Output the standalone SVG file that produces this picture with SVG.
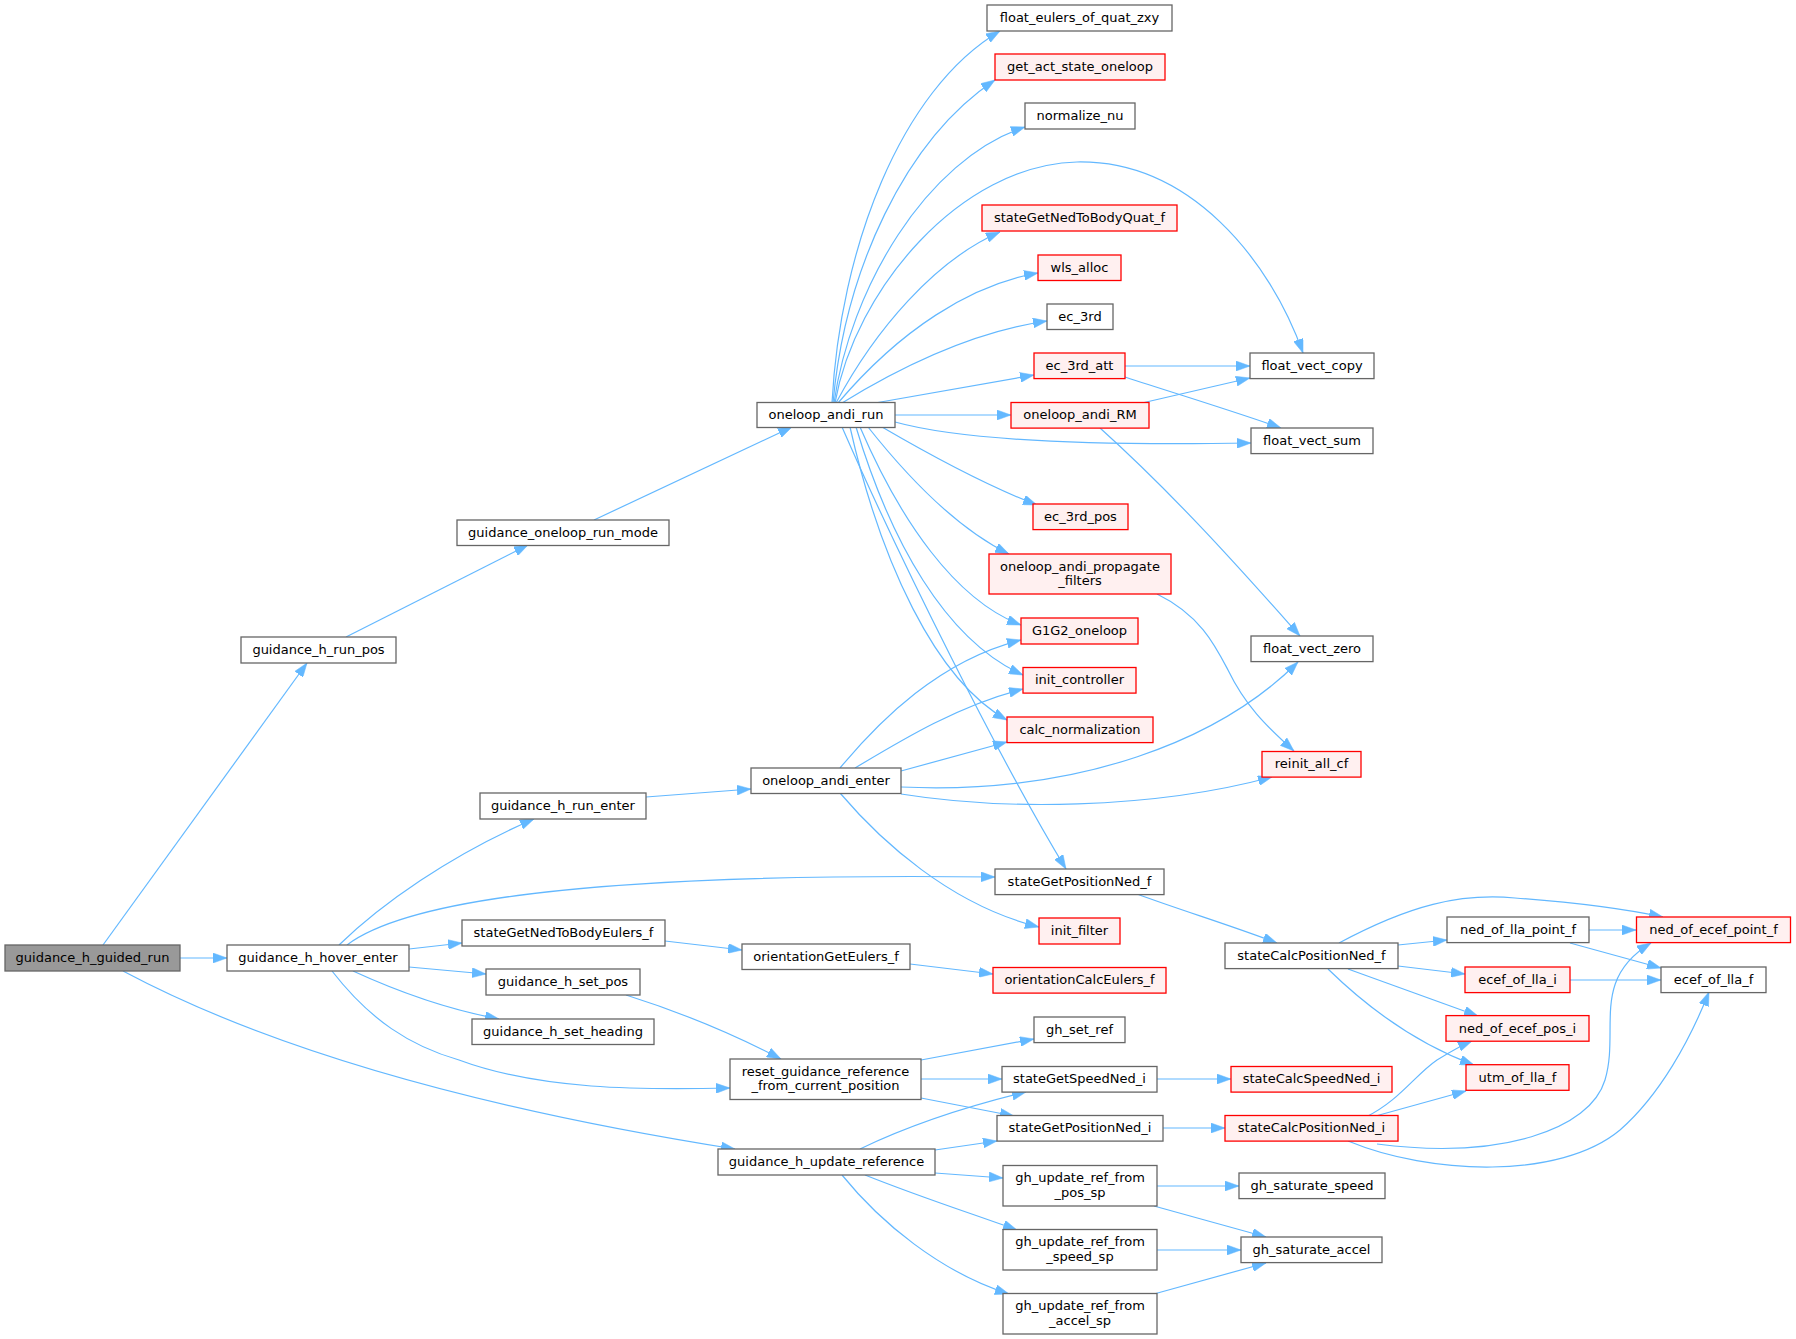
<svg xmlns="http://www.w3.org/2000/svg" width="1796" height="1339" viewBox="0 0 1796 1339">
<defs>
<style>
.w{fill:#ffffff;stroke:#666666;stroke-width:1.3}
.r{fill:#fff0f0;stroke:#ff0000;stroke-width:1.3}
.g{fill:#999999;stroke:#666666;stroke-width:1.3}
.t{font-family:"DejaVu Sans","Liberation Sans",sans-serif;font-size:13px;text-anchor:middle;fill:#000000}
#edges path{fill:none;stroke:#63b8ff;stroke-width:1.2;marker-end:url(#ah)}
</style>
<marker id="ah" markerWidth="14" markerHeight="10" refX="14" refY="5" orient="auto" markerUnits="userSpaceOnUse">
<path d="M0,0 L14,5 L0,10 z" fill="#63b8ff" stroke="#63b8ff" stroke-width="0.5"/>
</marker>
</defs>
<rect x="0" y="0" width="1796" height="1339" fill="#ffffff"/>
<g id="edges">
<path d="M103,945 L307,663"/>
<path d="M180,958 L227,958"/>
<path d="M123,971 C 290,1060 520,1115 735,1149"/>
<path d="M339,945 C 380,905 450,855 534,819"/>
<path d="M347,945 C 400,905 560,872 995,877"/>
<path d="M409,949 L462,943"/>
<path d="M409,967 L486,974"/>
<path d="M353,971 C 390,988 440,1008 499,1019"/>
<path d="M332,971 C 370,1020 410,1046 459,1060 C 540,1090 640,1090 730,1088"/>
<path d="M346,637 L528,545"/>
<path d="M594,520 L792,427"/>
<path d="M646,797 L751,789"/>
<path d="M626,995 C 680,1012 735,1035 781,1059"/>
<path d="M665,941 L742,950"/>
<path d="M910,964 L993,974"/>
<path d="M921,1060 L1034,1039"/>
<path d="M921,1079 L1002,1079"/>
<path d="M921,1098 L1014,1116"/>
<path d="M860,1149 C 910,1125 960,1108 1026,1092"/>
<path d="M935,1150 L997,1141"/>
<path d="M935,1173 L1003,1178"/>
<path d="M865,1175 C 920,1197 970,1213 1017,1230"/>
<path d="M842,1175 C 880,1222 940,1272 1009,1294"/>
<path d="M1157,1079 L1231,1079"/>
<path d="M1163,1128 L1225,1128"/>
<path d="M1157,1186 L1239,1186"/>
<path d="M1154,1206 L1266,1237"/>
<path d="M1157,1250 L1241,1250"/>
<path d="M1154,1294 L1266,1263"/>
<path d="M832,403 C 840,250 900,90 1000,31"/>
<path d="M833,403 C 845,270 905,140 995,80"/>
<path d="M834,403 C 850,290 925,160 1025,127"/>
<path d="M835,403 C 855,290 960,165 1077,162 C 1190,160 1270,260 1303,353"/>
<path d="M836,403 C 875,330 935,260 1000,232"/>
<path d="M838,403 C 900,330 970,285 1038,273"/>
<path d="M842,403 C 920,355 985,330 1047,321"/>
<path d="M875,403 L1034,375"/>
<path d="M895,415 L1011,415"/>
<path d="M895,422 C 960,440 1080,446 1251,443"/>
<path d="M882,427 C 930,455 985,485 1037,505"/>
<path d="M868,427 C 910,480 960,530 1009,554"/>
<path d="M860,427 C 900,520 955,600 1021,625"/>
<path d="M856,427 C 890,540 945,640 1023,675"/>
<path d="M850,427 C 880,560 935,680 1007,720"/>
<path d="M842,427 C 900,560 1000,760 1066,869"/>
<path d="M840,768 C 880,720 940,660 1021,640"/>
<path d="M855,768 C 905,738 960,705 1023,689"/>
<path d="M901,771 L1007,742"/>
<path d="M901,787 C 1080,795 1220,740 1298,662"/>
<path d="M901,794 C 1000,810 1150,810 1272,777"/>
<path d="M840,793 C 880,840 950,905 1039,927"/>
<path d="M1125,366 L1250,366"/>
<path d="M1125,377 C 1180,395 1230,410 1281,428"/>
<path d="M1142,403 L1250,378"/>
<path d="M1100,428 C 1180,500 1250,580 1300,636"/>
<path d="M1157,594 C 1200,615 1215,645 1228,670 C 1245,705 1265,725 1294,751"/>
<path d="M1137,894 C 1180,910 1230,925 1277,943"/>
<path d="M1339,943 C 1410,905 1460,893 1515,898 C 1570,902 1620,908 1663,917"/>
<path d="M1398,945 L1447,940"/>
<path d="M1398,966 L1465,974"/>
<path d="M1348,969 L1478,1016"/>
<path d="M1328,969 C 1370,1010 1420,1045 1474,1065"/>
<path d="M1589,930 L1636,930"/>
<path d="M1570,943 L1661,968"/>
<path d="M1570,980 L1661,980"/>
<path d="M1366,1117 C 1400,1100 1415,1075 1437,1060 C 1450,1052 1460,1046 1472,1041"/>
<path d="M1372,1117 L1466,1091"/>
<path d="M1377,1144 C 1500,1160 1590,1130 1605,1080 C 1620,1030 1590,980 1651,943"/>
<path d="M1348,1141 C 1430,1175 1560,1180 1620,1130 C 1660,1095 1690,1040 1709,992"/>
</g>
<g id="n_guidance_h_guided_run"><rect class="g" x="5" y="945" width="175" height="26"/><text class="t" x="92.5" y="962">guidance_h_guided_run</text></g>
<g id="n_guidance_h_hover_enter"><rect class="w" x="227" y="945" width="182" height="26"/><text class="t" x="318" y="962">guidance_h_hover_enter</text></g>
<g id="n_guidance_h_run_pos"><rect class="w" x="241" y="637" width="155" height="26"/><text class="t" x="318.5" y="654">guidance_h_run_pos</text></g>
<g id="n_guidance_oneloop_run_mode"><rect class="w" x="457" y="520" width="212" height="25.5"/><text class="t" x="563" y="536.8">guidance_oneloop_run_mode</text></g>
<g id="n_guidance_h_run_enter"><rect class="w" x="480" y="793" width="166" height="26"/><text class="t" x="563" y="810">guidance_h_run_enter</text></g>
<g id="n_stateGetNedToBodyEulers_f"><rect class="w" x="462" y="920" width="203" height="26"/><text class="t" x="563.5" y="937">stateGetNedToBodyEulers_f</text></g>
<g id="n_guidance_h_set_pos"><rect class="w" x="486" y="969" width="154" height="26"/><text class="t" x="563" y="986">guidance_h_set_pos</text></g>
<g id="n_guidance_h_set_heading"><rect class="w" x="472" y="1019" width="182" height="25.5"/><text class="t" x="563" y="1036">guidance_h_set_heading</text></g>
<g id="n_reset_guidance_reference"><rect class="w" x="730" y="1059" width="191" height="40.5"/><text class="t" x="825.5" y="1075.5">reset_guidance_reference</text><text class="t" x="825.5" y="1090">_from_current_position</text></g>
<g id="n_guidance_h_update_reference"><rect class="w" x="718" y="1149" width="217" height="26"/><text class="t" x="826.5" y="1166">guidance_h_update_reference</text></g>
<g id="n_oneloop_andi_run"><rect class="w" x="757" y="402.5" width="138" height="25"/><text class="t" x="826" y="419.3">oneloop_andi_run</text></g>
<g id="n_oneloop_andi_enter"><rect class="w" x="751" y="768" width="150" height="25.5"/><text class="t" x="826" y="785">oneloop_andi_enter</text></g>
<g id="n_orientationGetEulers_f"><rect class="w" x="742" y="944" width="168" height="25.5"/><text class="t" x="826" y="961">orientationGetEulers_f</text></g>
<g id="n_float_eulers_of_quat_zxy"><rect class="w" x="987" y="5" width="185" height="26"/><text class="t" x="1079.5" y="22">float_eulers_of_quat_zxy</text></g>
<g id="n_get_act_state_oneloop"><rect class="r" x="995" y="54" width="170" height="26"/><text class="t" x="1080" y="71">get_act_state_oneloop</text></g>
<g id="n_normalize_nu"><rect class="w" x="1025" y="103" width="110" height="26"/><text class="t" x="1080" y="120">normalize_nu</text></g>
<g id="n_stateGetNedToBodyQuat_f"><rect class="r" x="982" y="205" width="195" height="26"/><text class="t" x="1079.5" y="222">stateGetNedToBodyQuat_f</text></g>
<g id="n_wls_alloc"><rect class="r" x="1038" y="255" width="83" height="25.5"/><text class="t" x="1079.5" y="271.8">wls_alloc</text></g>
<g id="n_ec_3rd"><rect class="w" x="1047" y="304" width="66" height="25.5"/><text class="t" x="1080" y="320.8">ec_3rd</text></g>
<g id="n_ec_3rd_att"><rect class="r" x="1034" y="353" width="91" height="25.6"/><text class="t" x="1079.5" y="370">ec_3rd_att</text></g>
<g id="n_oneloop_andi_RM"><rect class="r" x="1011" y="402.5" width="138" height="25.6"/><text class="t" x="1080" y="419.3">oneloop_andi_RM</text></g>
<g id="n_ec_3rd_pos"><rect class="r" x="1033" y="504" width="95" height="25.6"/><text class="t" x="1080.5" y="521">ec_3rd_pos</text></g>
<g id="n_oneloop_andi_propagate_filters"><rect class="r" x="989" y="554" width="182" height="40"/><text class="t" x="1080" y="570.5">oneloop_andi_propagate</text><text class="t" x="1080" y="585">_filters</text></g>
<g id="n_G1G2_oneloop"><rect class="r" x="1021" y="618" width="117" height="26"/><text class="t" x="1079.5" y="635">G1G2_oneloop</text></g>
<g id="n_init_controller"><rect class="r" x="1023" y="667.5" width="113" height="25.6"/><text class="t" x="1079.5" y="684.3">init_controller</text></g>
<g id="n_calc_normalization"><rect class="r" x="1007" y="717" width="146" height="25.6"/><text class="t" x="1080" y="734">calc_normalization</text></g>
<g id="n_stateGetPositionNed_f"><rect class="w" x="995" y="869" width="169" height="25.6"/><text class="t" x="1079.5" y="886">stateGetPositionNed_f</text></g>
<g id="n_init_filter"><rect class="r" x="1039" y="918" width="81" height="26"/><text class="t" x="1079.5" y="935">init_filter</text></g>
<g id="n_orientationCalcEulers_f"><rect class="r" x="993" y="967.5" width="173" height="25.6"/><text class="t" x="1079.5" y="984.3">orientationCalcEulers_f</text></g>
<g id="n_gh_set_ref"><rect class="w" x="1034" y="1017" width="91" height="25.6"/><text class="t" x="1079.5" y="1034">gh_set_ref</text></g>
<g id="n_stateGetSpeedNed_i"><rect class="w" x="1002" y="1066.5" width="155" height="25.6"/><text class="t" x="1079.5" y="1083.3">stateGetSpeedNed_i</text></g>
<g id="n_stateGetPositionNed_i"><rect class="w" x="997" y="1115.5" width="166" height="25.6"/><text class="t" x="1080" y="1132.3">stateGetPositionNed_i</text></g>
<g id="n_gh_update_ref_from_pos_sp"><rect class="w" x="1003" y="1165.5" width="154" height="40.5"/><text class="t" x="1080" y="1182">gh_update_ref_from</text><text class="t" x="1080" y="1196.5">_pos_sp</text></g>
<g id="n_gh_update_ref_from_speed_sp"><rect class="w" x="1003" y="1229.5" width="154" height="40.5"/><text class="t" x="1080" y="1246">gh_update_ref_from</text><text class="t" x="1080" y="1260.5">_speed_sp</text></g>
<g id="n_gh_update_ref_from_accel_sp"><rect class="w" x="1003" y="1293.5" width="154" height="40.5"/><text class="t" x="1080" y="1310">gh_update_ref_from</text><text class="t" x="1080" y="1324.5">_accel_sp</text></g>
<g id="n_float_vect_copy"><rect class="w" x="1250" y="353" width="124" height="25.6"/><text class="t" x="1312" y="370">float_vect_copy</text></g>
<g id="n_float_vect_sum"><rect class="w" x="1251" y="428" width="122" height="25.6"/><text class="t" x="1312" y="445">float_vect_sum</text></g>
<g id="n_float_vect_zero"><rect class="w" x="1251" y="636" width="122" height="25.6"/><text class="t" x="1312" y="653">float_vect_zero</text></g>
<g id="n_reinit_all_cf"><rect class="r" x="1262" y="751.5" width="99" height="25.6"/><text class="t" x="1311.5" y="768.3">reinit_all_cf</text></g>
<g id="n_stateCalcPositionNed_f"><rect class="w" x="1225" y="943" width="173" height="25.6"/><text class="t" x="1311.5" y="960">stateCalcPositionNed_f</text></g>
<g id="n_stateCalcSpeedNed_i"><rect class="r" x="1231" y="1066.5" width="161" height="25.6"/><text class="t" x="1311.5" y="1083.3">stateCalcSpeedNed_i</text></g>
<g id="n_stateCalcPositionNed_i"><rect class="r" x="1225" y="1115.5" width="173" height="25.6"/><text class="t" x="1311.5" y="1132.3">stateCalcPositionNed_i</text></g>
<g id="n_gh_saturate_speed"><rect class="w" x="1239" y="1173" width="146" height="25.6"/><text class="t" x="1312" y="1190">gh_saturate_speed</text></g>
<g id="n_gh_saturate_accel"><rect class="w" x="1241" y="1237" width="141" height="25.6"/><text class="t" x="1311.5" y="1254">gh_saturate_accel</text></g>
<g id="n_ned_of_lla_point_f"><rect class="w" x="1447" y="917" width="142" height="25.6"/><text class="t" x="1518" y="934">ned_of_lla_point_f</text></g>
<g id="n_ecef_of_lla_i"><rect class="r" x="1465" y="967" width="105" height="25.6"/><text class="t" x="1517.5" y="984">ecef_of_lla_i</text></g>
<g id="n_ned_of_ecef_pos_i"><rect class="r" x="1446" y="1015.6" width="143" height="25.6"/><text class="t" x="1517.5" y="1032.6">ned_of_ecef_pos_i</text></g>
<g id="n_utm_of_lla_f"><rect class="r" x="1466" y="1064.7" width="103" height="25.6"/><text class="t" x="1517.5" y="1081.7">utm_of_lla_f</text></g>
<g id="n_ned_of_ecef_point_f"><rect class="r" x="1636.5" y="917" width="154" height="25.6"/><text class="t" x="1713.5" y="934">ned_of_ecef_point_f</text></g>
<g id="n_ecef_of_lla_f"><rect class="w" x="1661" y="967" width="105" height="25.6"/><text class="t" x="1713.5" y="984">ecef_of_lla_f</text></g>
</svg>
